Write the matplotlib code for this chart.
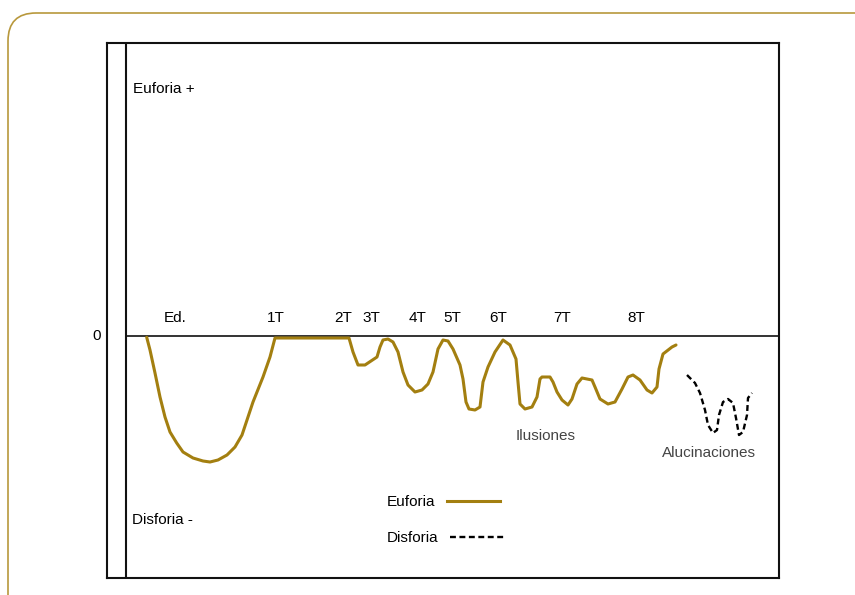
import matplotlib
matplotlib.use("Agg")
import matplotlib.pyplot as plt
from matplotlib.patches import FancyBboxPatch
from matplotlib.lines import Line2D

plt.rcParams["font.family"] = ["Liberation Sans", "DejaVu Sans"]

GOLD = "#A37F10"
FRAME = "#B8983C"

# curva de euforia (tiempo, estado de ánimo)
euf_t = [2.07, 2.4, 2.9, 3.4, 3.9, 4.4, 5.07, 5.7, 6.7, 7.7,
         8.4, 9.2, 10.1, 10.9, 11.6, 12.1, 12.7, 13.7, 14.4, 14.9,
         22.3, 22.7, 23.2, 23.9, 25.1, 25.4, 25.7, 26.2, 26.7, 27.2,
         27.7, 28.2, 28.9, 29.6, 30.2, 30.7, 31.2, 31.7, 32.2, 32.7,
         33.4, 33.7, 34.0, 34.3, 34.9, 35.4, 35.7, 36.2, 36.9, 37.7,
         38.4, 39.0, 39.2, 39.4, 39.9, 40.6, 41.1, 41.4, 41.6, 42.4,
         42.7, 43.1, 43.6, 44.2, 44.6, 45.1, 45.6, 46.6, 46.9, 47.4,
         48.2, 48.9, 49.6, 50.2, 50.7, 51.4, 52.1, 52.6, 53.1, 53.3,
         53.7, 54.6, 55.0]
euf_v = [-0.13, -1.4, -3.7, -6.1, -8.1, -9.6, -10.7, -11.6, -12.2, -12.5,
         -12.6, -12.4, -11.9, -11.1, -9.9, -8.4, -6.6, -4.1, -2.1, -0.2,
         -0.2, -1.6, -2.9, -2.9, -2.1, -1.1, -0.4, -0.3, -0.6, -1.6,
         -3.6, -4.9, -5.6, -5.4, -4.8, -3.6, -1.3, -0.4, -0.5, -1.3,
         -2.9, -4.3, -6.6, -7.3, -7.4, -7.1, -4.6, -3.1, -1.6, -0.4,
         -0.9, -2.3, -4.6, -6.8, -7.3, -7.1, -6.1, -4.3, -4.1, -4.1,
         -4.6, -5.6, -6.4, -6.9, -6.3, -4.8, -4.2, -4.4, -5.1, -6.3,
         -6.8, -6.6, -5.3, -4.1, -3.9, -4.4, -5.4, -5.7, -5.1, -3.3,
         -1.8, -1.1, -0.9]

# curva de disforia (alucinaciones)
dis_t = [56.1, 56.9, 57.4, 57.9, 58.2, 58.7, 59.1, 59.3, 59.7, 60.2,
         60.7, 61.0, 61.3, 61.7, 62.1, 62.2, 62.6]
dis_v = [-3.9, -4.7, -5.7, -7.4, -8.9, -9.7, -9.4, -7.9, -6.6, -6.3,
         -6.7, -8.2, -9.9, -9.6, -7.9, -6.2, -5.7]

# etiquetas de tomas
toma_labels = ["Ed.", "1T", "2T", "3T", "4T", "5T", "6T", "7T", "8T"]
toma_t = [4.9, 15.0, 21.7, 24.5, 29.2, 32.6, 37.2, 43.6, 51.0]

fig = plt.figure(figsize=(8.55, 5.95), dpi=100)

# marco dorado redondeado
frame = FancyBboxPatch((0.08, -1.0), 10.0, 6.82,
                       boxstyle="round,pad=0,rounding_size=0.28",
                       transform=fig.dpi_scale_trans, fill=False,
                       edgecolor=FRAME, linewidth=1.2)
fig.patches.append(frame)

ax = fig.add_axes([107 / 855, 1 - 578 / 595, 672 / 855, 535 / 595])
ax.set_xlim(-1.9, 65.3)
ax.set_ylim(-24.2, 29.3)
ax.set_xticks([])
ax.set_yticks([])
for s in ax.spines.values():
    s.set_linewidth(1.5)
    s.set_color("#111111")

ax.axvline(0, color="#111111", lw=1.5)
ax.hlines(0, 0, 65.3, color="#111111", lw=1.2)

ax.plot(euf_t, euf_v, color=GOLD, lw=2.2, solid_joinstyle="round",
        solid_capstyle="round")
ax.plot(dis_t, dis_v, color="black", lw=1.7, dashes=(2.5, 1.5))

fs = 11
ax.text(0.7, 24.7, "Euforia +", fontsize=fs, ha="left", va="center")
ax.text(0.6, -18.4, "Disforia -", fontsize=fs, ha="left", va="center")
ax.text(-2.9, 0, "0", fontsize=fs, ha="center", va="center")
for lab, t in zip(toma_labels, toma_t):
    ax.text(t, 1.8, lab, fontsize=fs, ha="center", va="center")
ax.text(42.0, -10.0, "Ilusiones", fontsize=fs, ha="center", va="center",
        color="#444444")
ax.text(58.3, -11.7, "Alucinaciones", fontsize=fs, ha="center",
        va="center", color="#444444")

handles = [Line2D([], [], color=GOLD, lw=2.2),
           Line2D([], [], color="black", lw=1.7, dashes=(2.5, 1.5))]
leg = ax.legend(handles, ["Euforia", "Disforia"], markerfirst=False,
                frameon=False, fontsize=fs, handlelength=3.5,
                handletextpad=0.75, labelspacing=1.45, borderpad=0,
                borderaxespad=0, loc="upper left",
                bbox_to_anchor=((387 - 107) / 672, 1 - (495 - 43) / 535))
# textos de la leyenda alineados a la izquierda
for col in leg._legend_handle_box.get_children():
    col.align = "left"

fig.savefig("out.png", dpi=100)
